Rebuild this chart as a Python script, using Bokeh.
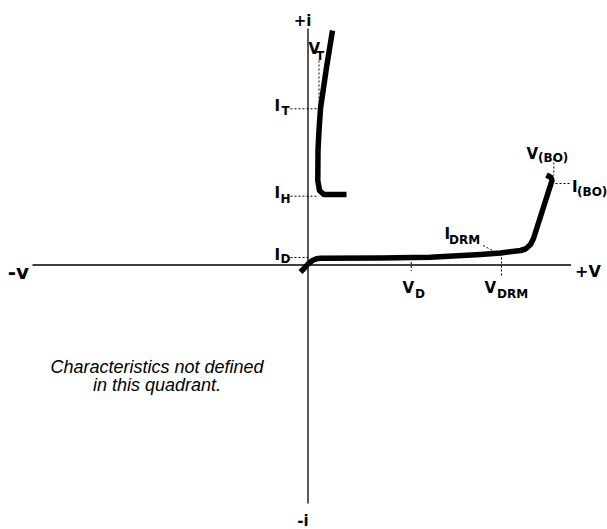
from bokeh.plotting import figure
from bokeh.models import Range1d, ColumnDataSource
from bokeh.core.properties import value
from bokeh.embed import file_html
from bokeh.resources import INLINE

# ---- data (v = voltage axis units, i = current axis units; origin at axes crossing) ----
# forward blocking + breakover characteristic
block_v = [-7.5, -3.5, 0.5, 4.5, 8.5, 12.5, 72.5, 122.5, 172.5, 192.5, 212.5, 217.5, 222.5, 225.5, 244.0, 243.0, 238.5]
block_i = [-7.0, -3.0, 1.5, 4.5, 6.2, 6.7, 7.0, 7.8, 10.5, 12.0, 14.5, 16.0, 20.5, 26.5, 84.5, 87.5, 90.0]
# on-state characteristic
on_v = [24.5, 18.5, 12.5, 11.0, 10.0, 9.8, 11.5, 15.8, 38.5]
on_i = [234.5, 197.5, 156.5, 134.5, 114.5, 84.5, 74.5, 70.5, 70.5]

# axes extents
axis_v = [-275.5, 263.0]
axis_i = [-238.5, 236.5]

# dotted reference markers: v0, i0, v1, i1  (VT, IT, IH, ID, VD, VDRM, IDRM, VBO, IBO)
ref_v0 = [11.0, -17.5, -17.5, -17.5, 103.2, 193.5, 175.2, 245.8, 247.5]
ref_i0 = [204.5, 156.2, 68.8, 7.5, 3.0, 11.5, 19.5, 106.5, 81.5]
ref_v1 = [11.0, 12.5, 10.5, 0.0, 103.2, 193.5, 185.8, 245.8, 262.5]
ref_i1 = [156.5, 156.2, 68.8, 7.5, -6.0, -10.5, 13.8, 89.5, 81.5]

# labels: main letter + subscript
lab_main = ["I", "I", "I", "V", "V", "V", "I", "V", "I"]
lab_sub = ["T", "H", "D", "T", "D", "DRM", "DRM", "(BO)", "(BO)"]
lab_v = [-33.5, -33.5, -33.5, 0.5, 94.5, 176.5, 136.5, 218.5, 264.0]
lab_i = [159.5, 72.5, 9.8, 216.5, -22.5, -22.5, 31.5, 111.5, 78.0]
sub_v = [-26.5, -27.5, -27.5, 8.0, 107.0, 189.0, 141.0, 230.0, 269.0]
sub_i = [154.5, 66.5, 6.5, 209.5, -28.5, -28.5, 25.5, 107.5, 73.5]

v_axis_labels = ["-v", "+V"]
v_axis_lab_v = [-279.0, 267.0]
v_axis_lab_i = [-6.5, -6.3]
v_axis_lab_align = ["right", "left"]
v_axis_lab_size = ["20px", "16px"]
i_axis_labels = ["+i", "-i"]
i_axis_lab_v = [-5.5, -5.0]
i_axis_lab_i = [244.0, -256.0]

note_lines = ["Characteristics not defined", "in this quadrant."]
note_v = [-151.0, -151.0]
note_i = [-101.5, -120.0]

# ---- figure ----
p = figure(width=607, height=529, output_backend="svg", toolbar_location=None,
           x_range=Range1d(-307.5, 299.5), y_range=Range1d(-264.5, 264.5),
           x_axis_location=None, y_axis_location=None, min_border=0)
p.grid.visible = False
p.outline_line_color = None
p.background_fill_color = "white"

# axes
p.line(axis_v, [0, 0], line_color="black", line_width=1.3)
p.line([0, 0], axis_i, line_color="black", line_width=1.3)

# dotted markers
p.segment(x0=ref_v0, y0=ref_i0, x1=ref_v1, y1=ref_i1, line_color="black",
          line_width=1, line_dash="2 2")

# curves
p.line(block_v, block_i, line_color="black", line_width=5.5, line_join="round")
p.line(on_v, on_i, line_color="black", line_width=5.5, line_join="round")

# labels
src_main = ColumnDataSource(dict(x=lab_v, y=lab_i, t=lab_main))
p.text(x="x", y="y", text="t", source=src_main, text_font=value("DejaVu Sans"),
       text_font_style="bold", text_font_size="15px", text_align="left",
       text_baseline="alphabetic", text_color="black")
src_sub = ColumnDataSource(dict(x=sub_v, y=sub_i, t=lab_sub))
p.text(x="x", y="y", text="t", source=src_sub, text_font=value("DejaVu Sans"),
       text_font_style="bold", text_font_size="12px", text_align="left",
       text_baseline="alphabetic", text_color="black")

for k in range(len(v_axis_labels)):
    src_vax = ColumnDataSource(dict(x=[v_axis_lab_v[k]], y=[v_axis_lab_i[k]],
                                    t=[v_axis_labels[k]]))
    p.text(x="x", y="y", text="t", source=src_vax, text_font=value("DejaVu Sans"),
           text_font_style="bold", text_font_size=v_axis_lab_size[k],
           text_align=v_axis_lab_align[k], text_baseline="alphabetic",
           text_color="black")

src_iax = ColumnDataSource(dict(x=i_axis_lab_v, y=i_axis_lab_i, t=i_axis_labels))
p.text(x="x", y="y", text="t", source=src_iax, text_font=value("DejaVu Sans"),
       text_font_style="bold", text_font_size="15px", text_align="center",
       text_baseline="alphabetic", text_color="black")

src_note = ColumnDataSource(dict(x=note_v, y=note_i, t=note_lines))
p.text(x="x", y="y", text="t", source=src_note, text_font=value("Liberation Sans"),
       text_font_style="italic", text_font_size="18px", text_align="center",
       text_baseline="alphabetic", text_color="black")

open("out.html", "w").write(file_html(p, INLINE))
